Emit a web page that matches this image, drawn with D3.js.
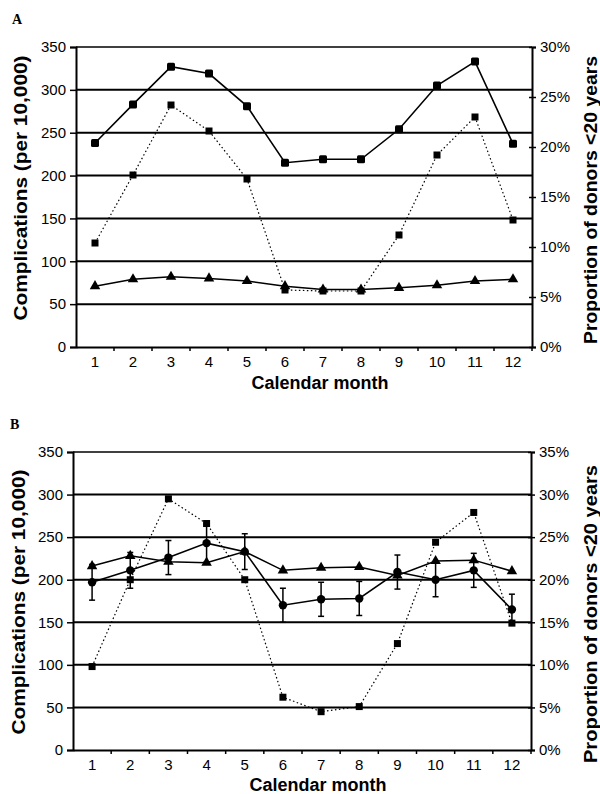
<!DOCTYPE html>
<html>
<head>
<meta charset="utf-8">
<script src="https://cdn.jsdelivr.net/npm/d3@7"></script>
<style>
  html, body { margin: 0; padding: 0; background: #fff; }
  svg { display: block; }
  text { font-family: "Liberation Sans", Arial, sans-serif; fill: #000; }
</style>
</head>
<body>
<script>
// ---------- data ----------
const months = [1, 2, 3, 4, 5, 6, 7, 8, 9, 10, 11, 12];
const leftTicks = [0, 50, 100, 150, 200, 250, 300, 350];
const rightTicksA = [0, 5, 10, 15, 20, 25, 30];
const rightTicksB = [0, 5, 10, 15, 20, 25, 30, 35];

// Panel A
const aComplications = [238, 283, 327, 319, 281, 215, 219, 219, 254, 305, 333, 237];
const aTriangles = [71, 79, 82, 80, 77, 71, 67, 67, 69, 72, 77, 79];
const aYoungDonorsPct = [10.4, 17.2, 24.2, 21.6, 16.8, 5.7, 5.6, 5.6, 11.2, 19.2, 23.0, 12.7];

// Panel B
const bCircles = [197, 211, 226, 243, 233, 170, 177, 178, 209, 200, 211, 165];
const bCirclesErr = [21, 21, 20, 22, 21, 20, 20, 20, 20, 20, 20, 18];
const bTriangles = [216, 228, 221, 220, 233, 211, 214, 215, 205, 222, 223, 210];
const bYoungDonorsPct = [9.8, 20.0, 29.5, 26.6, 20.0, 6.2, 4.5, 5.1, 12.5, 24.4, 27.9, 14.9];

const leftTitle = "Complications (per 10,000)";
const rightTitle = "Proportion of donors <20 years";
const xTitle = "Calendar month";

// ---------- drawing ----------
const W = 600, H = 794;
const svg = d3.select("body").append("svg").attr("width", W).attr("height", H);

function drawPanel(p) {
  const g = svg.append("g");
  const x = d3.scaleBand().domain(months).range([p.left, p.right]);
  const cx = m => x(m) + x.bandwidth() / 2;
  const yL = d3.scaleLinear().domain([0, 350]).range([p.bottom, p.top]);
  const yR = d3.scaleLinear().domain([0, p.rightMax]).range([p.bottom, p.top]);

  // panel letter
  g.append("text").attr("x", p.letterX).attr("y", p.letterY)
    .style("font-family", "'Liberation Serif', 'Times New Roman', serif")
    .style("font-weight", "bold").style("font-size", "14px").text(p.letter);

  // gridlines
  g.append("g").selectAll("line").data(leftTicks.filter(t => t > 0)).join("line")
    .attr("x1", p.left).attr("x2", p.right)
    .attr("y1", d => yL(d)).attr("y2", d => yL(d))
    .attr("stroke", "#000").attr("stroke-width", d => d === 350 ? 1.5 : 2);

  // left axis
  const axL = g.append("g").attr("transform", `translate(${p.left},0)`)
    .call(d3.axisLeft(yL).tickValues(leftTicks).tickSize(6).tickPadding(4));
  axL.select(".domain").attr("stroke-width", 2);
  axL.selectAll(".tick line").attr("stroke-width", 1.5);
  axL.selectAll("text").style("font-size", "15px").attr("fill", "#000");

  // right axis
  const axR = g.append("g").attr("transform", `translate(${p.right},0)`)
    .call(d3.axisRight(yR).tickValues(p.rightTicks).tickSize(4).tickPadding(4)
      .tickFormat(d => d + "%"));
  axR.select(".domain").attr("stroke-width", 2);
  axR.selectAll(".tick line").attr("x1", -3).attr("stroke-width", 1.5);
  axR.selectAll("text").style("font-size", "15px").attr("fill", "#000");

  // bottom axis
  const axB = g.append("g").attr("transform", `translate(0,${p.bottom})`)
    .call(d3.axisBottom(x).tickSize(0).tickPadding(9));
  axB.select(".domain").attr("stroke-width", 2);
  axB.selectAll("text").style("font-size", "15px").attr("fill", "#000");
  // ticks at band boundaries
  g.append("g").selectAll("line").data(months).join("line")
    .attr("x1", d => x(d) + x.bandwidth()).attr("x2", d => x(d) + x.bandwidth())
    .attr("y1", p.bottom).attr("y2", p.bottom + 4)
    .attr("stroke", "#000").attr("stroke-width", 1.5);

  // titles
  g.append("text").attr("transform", `translate(${p.leftTitleX},${p.leftTitleY}) rotate(-90)`)
    .attr("text-anchor", "middle").style("font-size", "18px").style("font-weight", "bold")
    .attr("textLength", p.leftTitleLen).attr("lengthAdjust", "spacingAndGlyphs")
    .text(leftTitle);
  g.append("text").attr("transform", `translate(${p.rightTitleX},${p.rightTitleY}) rotate(-90)`)
    .attr("text-anchor", "middle").style("font-size", "18px").style("font-weight", "bold")
    .attr("textLength", p.rightTitleLen).attr("lengthAdjust", "spacingAndGlyphs")
    .text(rightTitle);
  g.append("text").attr("x", cx(7) - 3).attr("y", p.xTitleY)
    .attr("text-anchor", "middle").style("font-size", "18px").style("font-weight", "bold")
    .text(xTitle);

  // dotted series (right axis)
  const dotted = months.map((m, i) => [cx(m), yR(p.pct[i])]);
  g.append("path").attr("d", d3.line()(dotted)).attr("fill", "none")
    .attr("stroke", "#000").attr("stroke-width", 1.2).attr("stroke-dasharray", "1.5,2.5");
  g.append("g").selectAll("rect").data(dotted).join("rect")
    .attr("x", d => d[0] - 3.5).attr("y", d => d[1] - 3.5)
    .attr("width", 7).attr("height", 7).attr("fill", "#000");

  // triangles
  const tri = months.map((m, i) => [cx(m), yL(p.tri[i])]);
  g.append("path").attr("d", d3.line()(tri)).attr("fill", "none")
    .attr("stroke", "#000").attr("stroke-width", 1.5);
  g.append("g").selectAll("path").data(tri).join("path")
    .attr("transform", d => `translate(${d[0]},${d[1]})`)
    .attr("d", d3.symbol(d3.symbolTriangle, 48)).attr("fill", "#000");

  // main series
  const main = months.map((m, i) => [cx(m), yL(p.main[i])]);
  if (p.err) {
    const eb = g.append("g").selectAll("g").data(months).join("g");
    eb.append("line").attr("x1", d => cx(d)).attr("x2", d => cx(d))
      .attr("y1", (d, i) => yL(p.main[i] + p.err[i])).attr("y2", (d, i) => yL(p.main[i] - p.err[i]))
      .attr("stroke", "#000").attr("stroke-width", 1.5);
    eb.append("line").attr("x1", d => cx(d) - 3).attr("x2", d => cx(d) + 3)
      .attr("y1", (d, i) => yL(p.main[i] + p.err[i])).attr("y2", (d, i) => yL(p.main[i] + p.err[i]))
      .attr("stroke", "#000").attr("stroke-width", 1.5);
    eb.append("line").attr("x1", d => cx(d) - 3).attr("x2", d => cx(d) + 3)
      .attr("y1", (d, i) => yL(p.main[i] - p.err[i])).attr("y2", (d, i) => yL(p.main[i] - p.err[i]))
      .attr("stroke", "#000").attr("stroke-width", 1.5);
  }
  g.append("path").attr("d", d3.line()(main)).attr("fill", "none")
    .attr("stroke", "#000").attr("stroke-width", 1.6);
  if (p.mainShape === "circle") {
    g.append("g").selectAll("circle").data(main).join("circle")
      .attr("cx", d => d[0]).attr("cy", d => d[1]).attr("r", 4.2).attr("fill", "#000");
  } else {
    g.append("g").selectAll("rect").data(main).join("rect")
      .attr("x", d => d[0] - 4).attr("y", d => d[1] - 4).attr("rx", 1.5)
      .attr("width", 8).attr("height", 8).attr("fill", "#000");
  }
}

drawPanel({
  letter: "A", letterX: 12, letterY: 24,
  left: 76, right: 532, top: 47, bottom: 347,
  rightMax: 30, rightTicks: rightTicksA,
  leftTitleX: 27, leftTitleY: 188, leftTitleLen: 265,
  rightTitleX: 597, rightTitleY: 200, rightTitleLen: 288,
  xTitleY: 389,
  main: aComplications, tri: aTriangles, pct: aYoungDonorsPct,
  err: null, mainShape: "rect"
});

drawPanel({
  letter: "B", letterX: 10, letterY: 429,
  left: 73, right: 531, top: 452, bottom: 750,
  rightMax: 35, rightTicks: rightTicksB,
  leftTitleX: 25, leftTitleY: 602, leftTitleLen: 265,
  rightTitleX: 597, rightTitleY: 614, rightTitleLen: 298,
  xTitleY: 791,
  main: bCircles, tri: bTriangles, pct: bYoungDonorsPct,
  err: bCirclesErr, mainShape: "circle"
});
</script>
</body>
</html>
